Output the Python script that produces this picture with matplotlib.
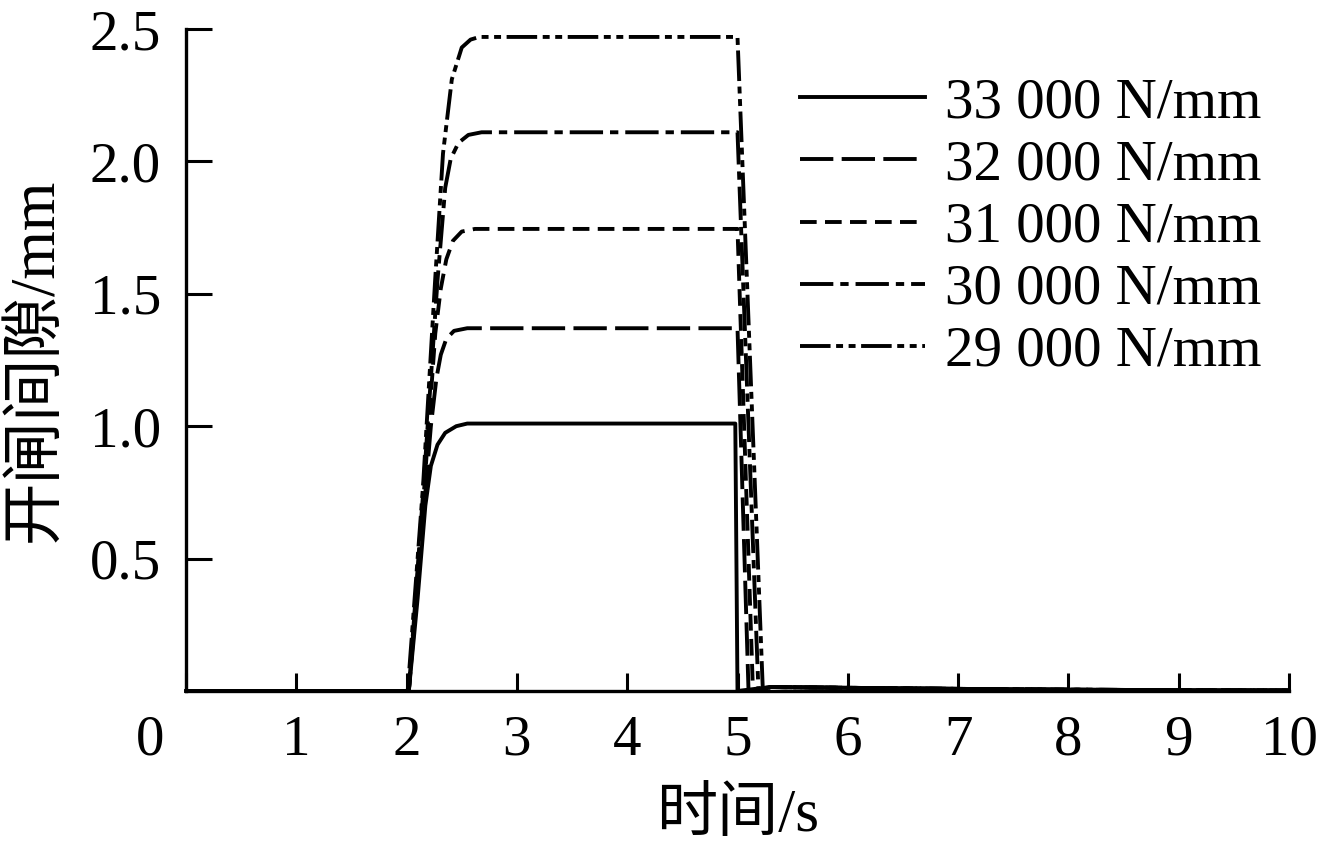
import numpy as np
import matplotlib
matplotlib.use("Agg")
import matplotlib.pyplot as plt
from matplotlib.transforms import ScaledTranslation

# ------------------------------------------------------------
# Data (time in s, gap in mm)
# ------------------------------------------------------------

labels = ["33 000 N/mm", "32 000 N/mm", "31 000 N/mm", "30 000 N/mm", "29 000 N/mm"]

t_33000 = [0.0, 2.02, 2.10, 2.17, 2.22, 2.28, 2.35, 2.45, 2.55, 4.98, 5.00, 5.30, 6.0, 7.0, 8.0, 9.0, 10.0]
v_33000 = [0.0, 0.0, 0.35, 0.70, 0.85, 0.93, 0.975, 1.0, 1.01, 1.01, 0.0, 0.015, 0.012, 0.008, 0.005, 0.003, 0.002]

t_32000 = [0.0, 2.02, 2.12, 2.22, 2.27, 2.31, 2.36, 2.43, 2.55, 5.00, 5.10, 5.30, 6.0, 7.0, 8.0, 9.0, 10.0]
v_32000 = [0.0, 0.0, 0.50, 1.00, 1.18, 1.27, 1.33, 1.36, 1.37, 1.37, 0.0, 0.015, 0.012, 0.008, 0.005, 0.003, 0.002]

t_31000 = [0.0, 2.02, 2.14, 2.26, 2.31, 2.36, 2.42, 2.50, 2.62, 5.00, 5.14, 5.30, 6.0, 7.0, 8.0, 9.0, 10.0]
v_31000 = [0.0, 0.0, 0.65, 1.35, 1.52, 1.63, 1.70, 1.735, 1.745, 1.745, 0.0, 0.015, 0.012, 0.008, 0.005, 0.003, 0.002]

t_30000 = [0.0, 2.02, 2.15, 2.28, 2.35, 2.40, 2.47, 2.56, 2.68, 5.00, 5.19, 5.30, 6.0, 7.0, 8.0, 9.0, 10.0]
v_30000 = [0.0, 0.0, 0.75, 1.55, 1.90, 2.01, 2.07, 2.10, 2.11, 2.11, 0.0, 0.015, 0.012, 0.008, 0.005, 0.003, 0.002]

t_29000 = [0.0, 2.01, 2.15, 2.26, 2.33, 2.41, 2.50, 2.58, 2.66, 5.00, 5.23, 5.30, 6.0, 7.0, 8.0, 9.0, 10.0]
v_29000 = [0.0, 0.0, 0.78, 1.56, 2.03, 2.31, 2.43, 2.46, 2.47, 2.47, 0.0, 0.015, 0.012, 0.008, 0.005, 0.003, 0.002]

x_ticks = [0, 1, 2, 3, 4, 5, 6, 7, 8, 9, 10]
y_ticks = [0.5, 1.0, 1.5, 2.0, 2.5]
y_tick_labels = ["0.5", "1.0", "1.5", "2.0", "2.5"]

# dash patterns in points (not scaled by line width)
styles = [
    "-",
    (0, (24, 6)),
    (0, (12, 6)),
    (0, (24, 5, 6, 5)),
    (0, (22, 4, 5, 4, 5, 4)),
]

# ------------------------------------------------------------
# Plot
# ------------------------------------------------------------

fonts = ["Liberation Serif", "Noto Sans CJK SC", "DejaVu Sans"]
plt.rcParams["font.family"] = fonts
plt.rcParams["lines.scale_dashes"] = False

fig = plt.figure(figsize=(13.17, 8.52), dpi=100)
ax = fig.add_axes([186 / 1317, 1 - 691 / 852, (1289 - 186) / 1317, (691 - 29) / 852])

series = [
    (t_33000, v_33000),
    (t_32000, v_32000),
    (t_31000, v_31000),
    (t_30000, v_30000),
    (t_29000, v_29000),
]

for (t, v), ls, lab in zip(series, styles, labels):
    ax.plot(t, v, color="black", linestyle=ls, linewidth=2.8, label=lab, clip_on=False)

ax.set_xlim(0, 10)
ax.set_ylim(0, 2.5)
ax.set_xticks(x_ticks)
ax.set_yticks(y_ticks)
ax.set_yticklabels(y_tick_labels)

for side in ["top", "right"]:
    ax.spines[side].set_visible(False)
for side in ["left", "bottom"]:
    ax.spines[side].set_linewidth(2.4)

ax.tick_params(axis="both", direction="in", width=2.2, labelsize=41)
ax.tick_params(axis="y", length=19, pad=18)
ax.tick_params(axis="x", length=13, pad=17)

# the shared origin label "0" sits left of the corner
lab0 = ax.get_xticklabels()[0]
lab0.set_transform(lab0.get_transform() + ScaledTranslation(-0.36, 0, fig.dpi_scale_trans))

ax.set_xlabel("时间/s", fontsize=44)
ax.set_ylabel("开闸间隙/mm", fontsize=45)
ax.xaxis.set_label_coords(0.5, (691 - 816) / 662)
ax.xaxis.label.set_va("center")
ax.yaxis.set_label_coords((37 - 186) / 1103, 0.5)
ax.yaxis.label.set_va("center")

ax.legend(
    loc="upper left",
    bbox_to_anchor=(800 / 1317, 1 - 77 / 852),
    bbox_transform=fig.transFigure,
    frameon=False,
    fontsize=41,
    handlelength=2.2,
    handletextpad=0.35,
    labelspacing=0.18,
    borderpad=0.0,
    borderaxespad=0.0,
)

plt.savefig("out.png", dpi=100)
